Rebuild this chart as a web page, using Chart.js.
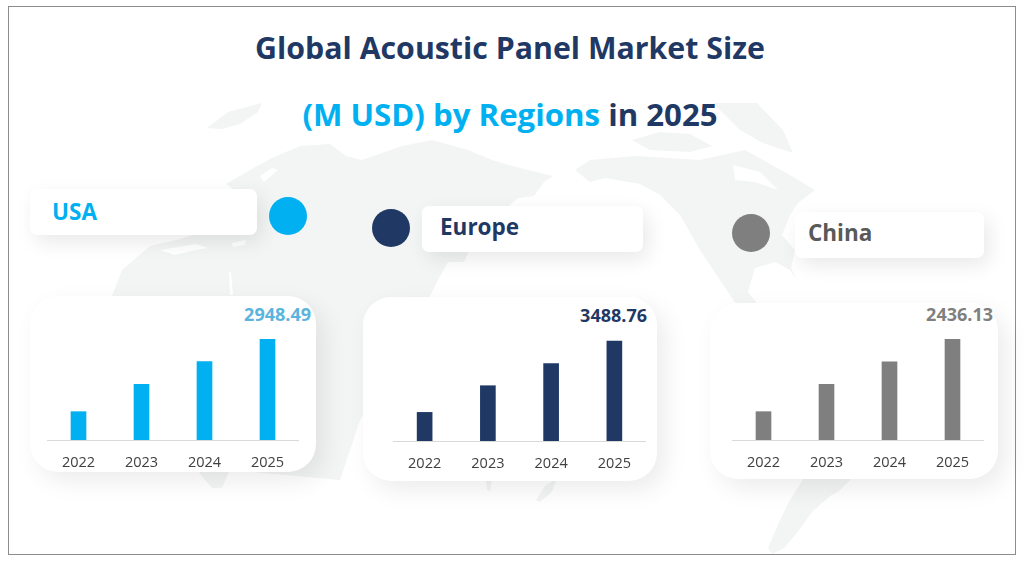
<!DOCTYPE html>
<html>
<head>
<meta charset="utf-8">
<title>Global Acoustic Panel Market Size</title>
<script src="https://cdn.jsdelivr.net/npm/chart.js@4"></script>
<style>
    html, body { margin: 0; padding: 0; background: #fff; }
    #page { position: relative; width: 1024px; height: 564px; overflow: hidden; background: #fff; font-family: "Open Sans", sans-serif; }
    #frame { position: absolute; left: 8px; top: 6px; width: 1006px; height: 547px; border: 1px solid #8c8c8c; }
    #map { position: absolute; left: 0; top: 0; }
    .title { position: absolute; left: 0; width: 1020px; text-align: center; font-weight: 700; color: #1f3864; white-space: nowrap; }
    .cyan { color: #00b0f0; }
    .label { position: absolute; height: 46px; background: #fff; border-radius: 7px; box-shadow: 5px 7px 20px rgba(0,0,0,0.09); font-size: 22.5px; font-weight: 700; box-sizing: border-box; }
    .dot { position: absolute; width: 38px; height: 38px; border-radius: 50%; }
    .card { position: absolute; background: #fff; border-radius: 28px; box-shadow: 8px 9px 24px rgba(0,0,0,0.08); }
    .value { position: absolute; font-size: 18px; font-weight: 700; white-space: nowrap; }
    canvas { position: absolute; }
</style>
</head>
<body>
<div id="page">
    <svg id="map" width="1024" height="564" fill="#f3f4f4">
        <!-- rough world map behind everything -->
        <path d="M207 128 L228 112 L262 103 L258 112 L240 124 L222 129 Z"/>
        <path d="M112 296 L122 270 L150 246 L176 240 L196 234 L210 226 L206 218 L222 206 L232 188 L226 184 L250 170 L272 158 L300 146 L330 144 L346 156 L362 160 L402 146 L432 140 L468 150 L492 160 L520 168 L553 176 L544 182 L534 196 L518 198 L502 212 L484 222 L474 240 L464 262 L448 262 L438 280 L428 300 L418 330 L392 372 L360 420 L340 480 L230 470 L228 474 L222 488 L212 488 L200 474 L170 400 L122 340 Z"/>
        <path d="M536 500 L545 486 L557 478 L552 492 L540 502 Z"/>
        <path d="M486 480 L492 480 L490 491 L487 490 Z"/>
        <path d="M575 170 L590 160 L636 156 L700 160 L745 150 L790 175 L815 190 L798 203 L790 215 L782 235 L795 250 L791 268 L797 280 L790 270 L775 262 L755 268 L748 292 L770 320 L740 310 L720 280 L700 250 L680 215 L660 195 L640 184 L605 178 L590 182 Z"/>
        <path d="M632 140 L660 132 L690 134 L712 146 L690 152 L650 150 Z"/>
        <path d="M713 103 L757 103 L783 130 L793 153 L763 143 L740 130 Z"/>
        <path d="M804 478 L852 478 L838 492 L830 496 L812 512 L796 534 L784 548 L772 554 L768 548 L780 520 L790 500 Z"/>
        <g fill="#ffffff">
            <path d="M733 165 L760 172 L778 190 L755 182 L735 180 Z"/>
            <path d="M160 250 L178 247 L196 244 L208 248 L195 250 L175 255 Z"/>
            <path d="M232 243 L246 240 L245 245 L233 247 Z"/>
            <path d="M231 272 L233 295 L230 295 L229 272 Z"/>
            <path d="M260 176 L272 168 L278 170 L264 182 Z"/>
        </g>
    </svg>
    <div id="frame"></div>

    <div class="title" style="top:27px;font-size:30.3px">Global Acoustic Panel Market Size</div>
    <div class="title" style="top:93px;font-size:31.2px"><span class="cyan">(M USD) by Regions</span> in 2025</div>

    <div class="label" style="left:30px;top:189px;width:227px;padding-left:22px;line-height:46px;color:#00b0f0">USA</div>
    <div class="dot" style="left:269px;top:197px;background:#00b0f0"></div>
    <div class="label" style="left:422px;top:206px;width:221px;padding-left:18px;line-height:42px;color:#1f3864">Europe</div>
    <div class="dot" style="left:372px;top:209px;background:#1f3864"></div>
    <div class="label" style="left:795px;top:212px;width:189px;padding-left:13px;line-height:41px;color:#595959">China</div>
    <div class="dot" style="left:732px;top:214px;background:#7f7f7f"></div>

    <div class="card" style="left:30px;top:296px;width:286px;height:176px"></div>
    <div class="card" style="left:363px;top:297px;width:294px;height:184px"></div>
    <div class="card" style="left:710px;top:303px;width:288px;height:176px"></div>

    <canvas id="usaChart" style="left:47px;top:330px" width="252" height="150"></canvas>
    <canvas id="europeChart" style="left:393px;top:331px" width="253" height="150"></canvas>
    <canvas id="chinaChart" style="left:732px;top:330px" width="252" height="150"></canvas>

    <div class="value" id="usaValue" style="right:713px;top:302px;color:#5bb4dc"></div>
    <div class="value" id="europeValue" style="right:377px;top:303px;color:#1f3864"></div>
    <div class="value" id="chinaValue" style="right:31px;top:302px;color:#7f7f7f"></div>
</div>

<script>
    const years = ['2022', '2023', '2024', '2025'];
    const usaValues = [829, 1631, 2293, 2948.49];
    const europeValues = [998, 1929, 2697, 3488.76];
    const chinaValues = [685, 1347, 1894, 2436.13];

    function drawBars(id, values, color, maxY) {
        const ctx = document.getElementById(id).getContext('2d');
        return new Chart(ctx, {
            type: 'bar',
            data: {
                labels: years,
                datasets: [{
                    data: values,
                    backgroundColor: color,
                    barThickness: 15
                }]
            },
            options: {
                responsive: false,
                animation: false,
                layout: { padding: 0 },
                plugins: {
                    legend: { display: false },
                    tooltip: { enabled: false }
                },
                scales: {
                    x: {
                        afterFit: scale => { scale.height = 40; },
                        grid: { display: false },
                        border: { color: '#d9d9d9', width: 1 },
                        ticks: {
                            color: '#404040',
                            padding: 6,
                            maxRotation: 0,
                            font: { family: 'Open Sans', size: 14.5 }
                        }
                    },
                    y: {
                        display: false,
                        min: 0,
                        max: maxY
                    }
                }
            }
        });
    }

    drawBars('usaChart', usaValues, '#00b0f0', 3221);
    drawBars('europeChart', europeValues, '#1f3864', 3838);
    drawBars('chinaChart', chinaValues, '#7f7f7f', 2661);

    document.getElementById('usaValue').textContent = usaValues[3].toFixed(2);
    document.getElementById('europeValue').textContent = europeValues[3].toFixed(2);
    document.getElementById('chinaValue').textContent = chinaValues[3].toFixed(2);
</script>
</body>
</html>
